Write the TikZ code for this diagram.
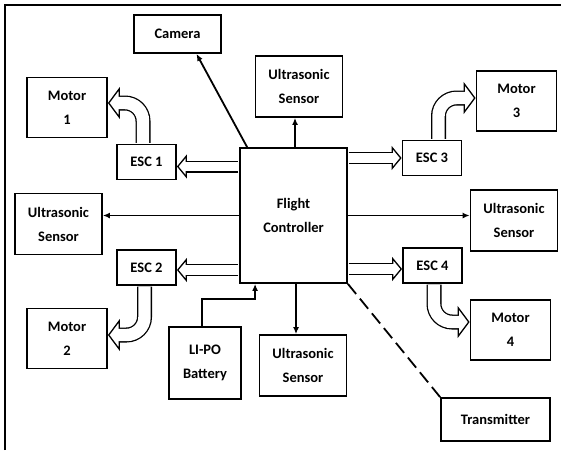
\documentclass[tikz,border=0pt]{standalone}
\usepackage{fontspec}
\setmainfont{Carlito}
\usetikzlibrary{arrows.meta}

\tikzset{
  block/.style={draw, line width=1.8pt, align=center, inner sep=0pt,
    font=\fontsize{14.5}{24}\selectfont\bfseries},
  motor/.style={block, minimum width=80pt, minimum height=60pt},
  esc/.style={block, minimum width=59pt, minimum height=35pt},
  sensor/.style={block, minimum width=87pt, minimum height=61pt},
  sig/.style={line width=1.8pt, -{Latex[length=7pt,width=6pt]}},
  power/.style={line width=12pt, shorten <=0.8pt,
    -{Triangle[open, length=10pt, width=24pt, line width=1.3pt]},
    postaction={draw=white, line width=9.4pt, -, shorten >=7pt}},
  powerbend/.style={line width=15pt, shorten <=0.8pt, rounded corners=18pt,
    -{Triangle[open, length=12pt, width=32pt, line width=1.3pt]},
    postaction={draw=white, line width=12.4pt, -, shorten >=8pt}}
}

\begin{document}
\begin{tikzpicture}[x=1pt, y=-1pt]
\useasboundingbox (0,0) rectangle (561,450);
\draw[line width=2pt] (5,450) -- (5,5) -- (561,5);

% blocks
\node[block, minimum width=87pt, minimum height=38pt] (camera) at (177.5,34) {Camera};
\node[block, minimum width=107pt, minimum height=135pt] (fc) at (293.5,215.5) {Flight\\Controller};
\node[sensor] (ust) at (299,86.5) {Ultrasonic\\Sensor};
\node[sensor] (usl) at (58.5,224) {Ultrasonic\\Sensor};
\node[sensor] (usr) at (514,220.5) {Ultrasonic\\Sensor};
\node[sensor] (usb) at (303,365.5) {Ultrasonic\\Sensor};
\node[esc] (esc1) at (146.5,162) {ESC 1};
\node[esc] (esc2) at (146.5,267.5) {ESC 2};
\node[esc] (esc3) at (432,158) {ESC 3};
\node[esc] (esc4) at (432.5,265.5) {ESC 4};
\node[motor] (m1) at (67,107.5) {Motor\\1};
\node[motor] (m2) at (67,338.5) {Motor\\2};
\node[motor] (m3) at (516.5,101) {Motor\\3};
\node[motor] (m4) at (510.5,330) {Motor\\4};
\node[block, minimum width=72pt, minimum height=72pt] (bat) at (205,363) {LI-PO\\Battery};
\node[block, minimum width=109pt, minimum height=43pt] (tx) at (495.5,419.5) {Transmitter};

% signal lines
\draw[sig] ([xshift=8pt]fc.north west) -- ([xshift=19pt]camera.south);
\draw[sig] ([xshift=1.5pt]fc.north) -- ([xshift=1.5pt]fc.north |- ust.south);
\draw[sig] (fc.west) -- (fc.west -| usl.east);
\draw[sig] (fc.east) -- (fc.east -| usr.west);
\draw[sig] ([xshift=2.5pt]fc.south) -- ([xshift=2.5pt]fc.south |- usb.north);
\draw[sig] ([xshift=-3pt]bat.north) -- ++(0,-27) -| ([xshift=16pt]fc.south west);
\draw[line width=1.8pt, dash pattern=on 13pt off 6pt] (fc.south east) -- (tx.north west);

% power to the ESCs
\draw[power] ([yshift=-4.5pt]esc1.east -| fc.west) -- ([yshift=-4.5pt]esc1.east);
\draw[power] ([yshift=-2.5pt]esc2.east -| fc.west) -- ([yshift=-2.5pt]esc2.east);
\draw[power] (esc3.west -| fc.east) -- (esc3.west);
\draw[power] ([yshift=-3.5pt]esc4.west -| fc.east) -- ([yshift=-3.5pt]esc4.west);

% ESCs to motors
\draw[powerbend] ([xshift=-3.5pt]esc1.north) |- ([yshift=4.5pt]m1.east);
\draw[powerbend] ([xshift=-2pt]esc2.south) |- ([yshift=3.5pt]m2.east);
\draw[powerbend] ([xshift=6.5pt]esc3.north) |- ([yshift=3pt]m3.west);
\draw[powerbend] ([xshift=1.5pt]esc4.south) |- ([yshift=8pt]m4.west);
\end{tikzpicture}
\end{document}
